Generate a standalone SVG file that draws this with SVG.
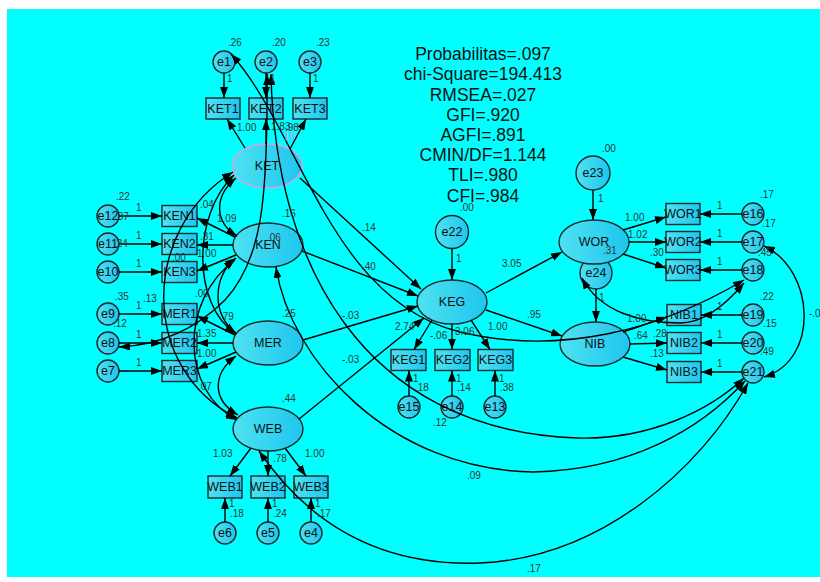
<svg xmlns="http://www.w3.org/2000/svg" width="820" height="582" viewBox="0 0 820 582">
<defs>
<linearGradient id="g" x1="0" y1="0" x2="1" y2="0"><stop offset="0" stop-color="#4ee2f2"/><stop offset="1" stop-color="#1ec6ee"/></linearGradient>
<marker id="a" viewBox="0 0 11 8" refX="11" refY="4" markerWidth="11" markerHeight="8" markerUnits="userSpaceOnUse" orient="auto-start-reverse"><path d="M0,0L11,4L0,8z" fill="#000"/></marker>
</defs>
<style>
.n{fill:url(#g);stroke:#1a2a2a;stroke-width:1.4}
.k{fill:url(#g);stroke:#d8a0e0;stroke-width:1.5}
.c{fill:none;stroke:#000;stroke-width:1.4}
.a{marker-end:url(#a)}
.d{marker-start:url(#a);marker-end:url(#a)}
.t{font-family:"Liberation Sans",Arial,sans-serif;font-size:12.5px;fill:#111;text-anchor:middle;dominant-baseline:central}
.s{font-family:"Liberation Sans",Arial,sans-serif;font-size:10px;fill:#333}
.p{fill:#d890e0}
.h{font-family:"Liberation Sans",Arial,sans-serif;font-size:17.5px;fill:#111;text-anchor:middle}
</style>
<rect x="0" y="0" width="820" height="582" fill="#fff"/>
<rect x="7" y="9" width="813" height="568" fill="#00ffff"/>

<g id="nodes">
<g id="e1"><circle class="n" cx="224" cy="62" r="11"/><text class="t" x="224" y="62">e1</text></g>
<g id="e2"><circle class="n" cx="266" cy="62" r="11"/><text class="t" x="266" y="62">e2</text></g>
<g id="e3"><circle class="n" cx="310" cy="62" r="11"/><text class="t" x="310" y="62">e3</text></g>
<g id="KET1"><rect class="n" x="206" y="98" width="34" height="21"/><text class="t" x="223" y="108.5">KET1</text></g>
<g id="KET2"><rect class="n" x="249" y="98" width="34" height="21"/><text class="t" x="266" y="108.5">KET2</text></g>
<g id="KET3"><rect class="n" x="293" y="98" width="34" height="21"/><text class="t" x="310" y="108.5">KET3</text></g>
<g id="KET"><ellipse class="k" cx="267" cy="166" rx="35" ry="22"/><text class="t" x="267" y="166">KET</text></g>

<g id="e12"><circle class="n" cx="108" cy="216" r="11"/><text class="t" x="108" y="216">e12</text></g>
<g id="e11"><circle class="n" cx="108" cy="244" r="11"/><text class="t" x="108" y="244">e11</text></g>
<g id="e10"><circle class="n" cx="108" cy="272" r="11"/><text class="t" x="108" y="272">e10</text></g>
<g id="e9"><circle class="n" cx="108" cy="314" r="11"/><text class="t" x="108" y="314">e9</text></g>
<g id="e8"><circle class="n" cx="108" cy="343" r="11"/><text class="t" x="108" y="343">e8</text></g>
<g id="e7"><circle class="n" cx="108" cy="371" r="11"/><text class="t" x="108" y="371">e7</text></g>
<g id="KEN1"><rect class="n" x="162" y="205.5" width="35" height="21"/><text class="t" x="179.5" y="216">KEN1</text></g>
<g id="KEN2"><rect class="n" x="162" y="233.5" width="35" height="21"/><text class="t" x="179.5" y="244">KEN2</text></g>
<g id="KEN3"><rect class="n" x="162" y="261.5" width="35" height="21"/><text class="t" x="179.5" y="272">KEN3</text></g>
<g id="MER1"><rect class="n" x="162" y="303.5" width="35" height="21"/><text class="t" x="179.5" y="314">MER1</text></g>
<g id="MER2"><rect class="n" x="162" y="332.5" width="35" height="21"/><text class="t" x="179.5" y="343">MER2</text></g>
<g id="MER3"><rect class="n" x="162" y="360.5" width="35" height="21"/><text class="t" x="179.5" y="371">MER3</text></g>
<g id="KEN"><ellipse class="n" cx="268" cy="245" rx="35" ry="22"/><text class="t" x="268" y="245">KEN</text></g>
<g id="MER"><ellipse class="n" cx="268" cy="343" rx="35" ry="22"/><text class="t" x="268" y="343">MER</text></g>
<g id="WEB"><ellipse class="n" cx="268" cy="429" rx="35" ry="22"/><text class="t" x="268" y="429">WEB</text></g>
<g id="WEB1"><rect class="n" x="208" y="476" width="34" height="22"/><text class="t" x="225" y="487">WEB1</text></g>
<g id="WEB2"><rect class="n" x="251" y="476" width="34" height="22"/><text class="t" x="268" y="487">WEB2</text></g>
<g id="WEB3"><rect class="n" x="294" y="476" width="34" height="22"/><text class="t" x="311" y="487">WEB3</text></g>
<g id="e6"><circle class="n" cx="225" cy="533" r="11"/><text class="t" x="225" y="533">e6</text></g>
<g id="e5"><circle class="n" cx="268" cy="533" r="11"/><text class="t" x="268" y="533">e5</text></g>
<g id="e4"><circle class="n" cx="311" cy="533" r="11"/><text class="t" x="311" y="533">e4</text></g>

<g id="e22"><circle class="n" cx="452" cy="232" r="16.5"/><text class="t" x="452" y="232">e22</text></g>
<g id="KEG"><ellipse class="n" cx="452" cy="302" rx="35" ry="22"/><text class="t" x="452" y="302">KEG</text></g>
<g id="KEG1"><rect class="n" x="391" y="349.5" width="35" height="21"/><text class="t" x="408.5" y="360">KEG1</text></g>
<g id="KEG2"><rect class="n" x="435" y="349.5" width="35" height="21"/><text class="t" x="452.5" y="360">KEG2</text></g>
<g id="KEG3"><rect class="n" x="478" y="349.5" width="35" height="21"/><text class="t" x="495.5" y="360">KEG3</text></g>
<g id="e15"><circle class="n" cx="409" cy="407" r="11"/><text class="t" x="409" y="407">e15</text></g>
<g id="e14"><circle class="n" cx="452" cy="407" r="11"/><text class="t" x="452" y="407">e14</text></g>
<g id="e13"><circle class="n" cx="495" cy="407" r="11"/><text class="t" x="495" y="407">e13</text></g>

<g id="e23"><circle class="n" cx="593" cy="173" r="17"/><text class="t" x="593" y="173">e23</text></g>
<g id="e24"><circle class="n" cx="596" cy="273" r="16"/><text class="t" x="596" y="273">e24</text></g>
<g id="WOR"><ellipse class="n" cx="594" cy="242" rx="35" ry="22"/><text class="t" x="594" y="242">WOR</text></g>
<g id="NIB"><ellipse class="n" cx="595" cy="344" rx="35" ry="22"/><text class="t" x="595" y="344">NIB</text></g>
<g id="WOR1"><rect class="n" x="666" y="203.5" width="34" height="21"/><text class="t" x="683" y="214">WOR1</text></g>
<g id="WOR2"><rect class="n" x="666" y="231.5" width="34" height="21"/><text class="t" x="683" y="242">WOR2</text></g>
<g id="WOR3"><rect class="n" x="666" y="259.5" width="34" height="21"/><text class="t" x="683" y="270">WOR3</text></g>
<g id="NIB1"><rect class="n" x="667" y="304.5" width="34" height="21"/><text class="t" x="684" y="315">NIB1</text></g>
<g id="NIB2"><rect class="n" x="667" y="332.5" width="34" height="21"/><text class="t" x="684" y="343">NIB2</text></g>
<g id="NIB3"><rect class="n" x="667" y="361.5" width="34" height="21"/><text class="t" x="684" y="372">NIB3</text></g>
<g id="e16"><circle class="n" cx="753" cy="214" r="11"/><text class="t" x="753" y="214">e16</text></g>
<g id="e17"><circle class="n" cx="753" cy="242" r="11"/><text class="t" x="753" y="242">e17</text></g>
<g id="e18"><circle class="n" cx="753" cy="270" r="11"/><text class="t" x="753" y="270">e18</text></g>
<g id="e19"><circle class="n" cx="753" cy="315" r="11"/><text class="t" x="753" y="315">e19</text></g>
<g id="e20"><circle class="n" cx="753" cy="343" r="11"/><text class="t" x="753" y="343">e20</text></g>
<g id="e21"><circle class="n" cx="753" cy="372" r="11"/><text class="t" x="753" y="372">e21</text></g>
</g>

<g id="connectors">
<line class="c a" x1="224" y1="73" x2="224" y2="98"/>
<line class="c a" x1="266" y1="73" x2="266" y2="98"/>
<line class="c a" x1="310" y1="73" x2="310" y2="98"/>
<line class="c a" x1="245" y1="148" x2="227" y2="119"/>
<line class="c a" x1="266" y1="144" x2="266" y2="119"/>
<line class="c a" x1="290" y1="149" x2="306" y2="119"/>
<line class="c a" x1="119" y1="216" x2="162" y2="216"/>
<line class="c a" x1="119" y1="244" x2="162" y2="244"/>
<line class="c a" x1="119" y1="272" x2="162" y2="272"/>
<line class="c a" x1="119" y1="314" x2="162" y2="314"/>
<line class="c a" x1="119" y1="343" x2="162" y2="343"/>
<line class="c a" x1="119" y1="371" x2="162" y2="371"/>
<line class="c a" x1="235" y1="237" x2="197" y2="218"/>
<line class="c a" x1="233" y1="245" x2="197" y2="245"/>
<line class="c a" x1="236" y1="255" x2="197" y2="271"/>
<line class="c a" x1="235" y1="335" x2="197" y2="316"/>
<line class="c a" x1="233" y1="343" x2="197" y2="343"/>
<line class="c a" x1="236" y1="352" x2="197" y2="369"/>
<line class="c a" x1="251" y1="448" x2="230" y2="476"/>
<line class="c a" x1="268" y1="451" x2="268" y2="476"/>
<line class="c a" x1="285" y1="448" x2="306" y2="476"/>
<line class="c a" x1="225" y1="522" x2="225" y2="498"/>
<line class="c a" x1="268" y1="522" x2="268" y2="498"/>
<line class="c a" x1="311" y1="522" x2="311" y2="498"/>
<line class="c a" x1="300" y1="178" x2="421" y2="289"/>
<line class="c a" x1="302" y1="251" x2="418" y2="296"/>
<line class="c a" x1="303" y1="340" x2="418" y2="306"/>
<line class="c a" x1="299" y1="419" x2="424" y2="318"/>
<line class="c a" x1="452" y1="248.5" x2="452" y2="280"/>
<line class="c a" x1="432" y1="320" x2="414" y2="349.5"/>
<line class="c a" x1="452" y1="324" x2="452" y2="349.5"/>
<line class="c a" x1="471" y1="320" x2="490" y2="349.5"/>
<line class="c a" x1="409" y1="396" x2="409" y2="370.5"/>
<line class="c a" x1="452" y1="396" x2="452" y2="370.5"/>
<line class="c a" x1="495" y1="396" x2="495" y2="370.5"/>
<line class="c a" x1="486" y1="293" x2="562" y2="252"/>
<line class="c a" x1="486" y1="310" x2="562" y2="336"/>
<line class="c a" x1="593" y1="190" x2="593" y2="220"/>
<line class="c a" x1="596" y1="289" x2="596" y2="322"/>
<line class="c a" x1="623" y1="230" x2="666" y2="217"/>
<line class="c a" x1="629" y1="242" x2="666" y2="242"/>
<line class="c a" x1="623" y1="254" x2="666" y2="268"/>
<line class="c a" x1="623" y1="332" x2="667" y2="317"/>
<line class="c a" x1="630" y1="344" x2="667" y2="343"/>
<line class="c a" x1="623" y1="357" x2="667" y2="370"/>
<line class="c a" x1="742" y1="214" x2="700" y2="214"/>
<line class="c a" x1="742" y1="242" x2="700" y2="242"/>
<line class="c a" x1="742" y1="270" x2="700" y2="270"/>
<line class="c a" x1="742" y1="315" x2="701" y2="315"/>
<line class="c a" x1="742" y1="343" x2="701" y2="343"/>
<line class="c a" x1="742" y1="372" x2="701" y2="372"/>
<path class="c d" d="M236,178 C214,196 214,222 237,236"/>
<path class="c d" d="M234,175 C192,215 192,305 236,334"/>
<path class="c d" d="M233,172 C140,230 140,370 237,418"/>
<path class="c d" d="M236,258 C212,276 212,316 236,333"/>
<path class="c d" d="M235,260 C180,300 180,390 237,420"/>
<path class="c d" d="M236,356 C212,374 212,400 238,415"/>
<path class="c d" d="M267,74 C268,200 262,260 225,300 C195,330 160,345 119,347"/>
<path class="c d" d="M231,54 C300,130 330,300 460,332 C560,356 660,330 744,280"/>
<path class="c d" d="M271,74 C275,260 360,430 577,438 C650,440 710,410 744,378"/>
<path class="c d" d="M276,267 C290,360 390,470 533,472 C630,470 700,430 745,381"/>
<path class="c d" d="M259,451 C320,540 400,566 480,563 C600,558 700,470 748,383"/>
<path class="c d" d="M582,278 C600,312 640,323 680,323 C705,323 728,302 744,283"/>
<path class="c d" d="M764,246 C815,270 820,360 764,377"/>
</g>

<g id="labels">
<text class="h" x="483" y="60">Probabilitas=.097</text>
<text class="h" x="483" y="80">chi-Square=194.413</text>
<text class="h" x="483" y="101">RMSEA=.027</text>
<text class="h" x="483" y="121">GFI=.920</text>
<text class="h" x="483" y="141">AGFI=.891</text>
<text class="h" x="483" y="161">CMIN/DF=1.144</text>
<text class="h" x="483" y="181">TLI=.980</text>
<text class="h" x="483" y="202">CFI=.984</text>

<text class="s" x="228" y="46">.26</text>
<text class="s" x="272" y="46">.20</text>
<text class="s" x="316" y="46">.23</text>
<text class="s" x="227" y="82">1</text>
<text class="s" x="270" y="82">1</text>
<text class="s" x="313" y="82">1</text>
<text class="s" x="237" y="131">1.00</text>
<text class="s" x="271" y="130">1.83</text>
<text class="s" x="285" y="131">.98</text>
<text class="s p" x="284" y="140">10</text>

<text class="s" x="116" y="200">.22</text>
<text class="s" x="115" y="220">.37</text>
<text class="s" x="114" y="247">.24</text>
<text class="s" x="115" y="300">.35</text>
<text class="s" x="113" y="327">.12</text>
<text class="s" x="136" y="211">1</text>
<text class="s" x="136" y="239">1</text>
<text class="s" x="136" y="267">1</text>
<text class="s" x="136" y="309">1</text>
<text class="s" x="136" y="338">1</text>
<text class="s" x="136" y="366">1</text>
<text class="s" x="200" y="208">.04</text>
<text class="s" x="217" y="222">1.09</text>
<text class="s" x="200" y="240">.31</text>
<text class="s" x="197" y="257">1.00</text>
<text class="s" x="172" y="261">.00</text>
<text class="s" x="195" y="297">.00</text>
<text class="s" x="220" y="320">.79</text>
<text class="s" x="143" y="302">.13</text>
<text class="s" x="197" y="337">1.35</text>
<text class="s" x="197" y="357">1.00</text>
<text class="s" x="198" y="390">.07</text>
<text class="s" x="282" y="217">.16</text>
<text class="s" x="267" y="241">.06</text>
<text class="s" x="282" y="317">.25</text>
<text class="s" x="282" y="402">.44</text>

<text class="s" x="213" y="457">1.03</text>
<text class="s" x="273" y="462">.78</text>
<text class="s" x="305" y="457">1.00</text>
<text class="s" x="229" y="507">1</text>
<text class="s" x="230" y="517">.18</text>
<text class="s" x="272" y="507">1</text>
<text class="s" x="273" y="517">.24</text>
<text class="s" x="315" y="507">1</text>
<text class="s" x="317" y="517">.17</text>

<text class="s" x="362" y="231">.14</text>
<text class="s" x="362" y="270">.40</text>
<text class="s" x="342" y="319">-.03</text>
<text class="s" x="342" y="363">-.03</text>
<text class="s" x="460" y="211">.00</text>
<text class="s" x="456" y="262">1</text>
<text class="s" x="395" y="330">2.74</text>
<text class="s" x="430" y="339">-.06</text>
<text class="s" x="455" y="335">3.06</text>
<text class="s" x="488" y="330">1.00</text>
<text class="s" x="413" y="382">1</text>
<text class="s" x="415" y="391">.18</text>
<text class="s" x="456" y="382">1</text>
<text class="s" x="457" y="391">.14</text>
<text class="s" x="499" y="382">1</text>
<text class="s" x="500" y="391">.38</text>
<text class="s" x="433" y="426">.12</text>
<text class="s" x="467" y="479">.09</text>
<text class="s" x="527" y="572">.17</text>
<text class="s" x="502" y="267">3.05</text>
<text class="s" x="527" y="318">.95</text>

<text class="s" x="602" y="152">.00</text>
<text class="s" x="598" y="202">1</text>
<text class="s" x="625" y="221">1.00</text>
<text class="s" x="628" y="238">1.02</text>
<text class="s" x="650" y="256">.30</text>
<text class="s" x="603" y="254">.31</text>
<text class="s" x="599" y="301">1</text>
<text class="s" x="627" y="322">1.00</text>
<text class="s" x="634" y="339">.64</text>
<text class="s" x="653" y="337">.28</text>
<text class="s" x="650" y="357">.13</text>
<text class="s" x="717" y="209">1</text>
<text class="s" x="717" y="237">1</text>
<text class="s" x="717" y="265">1</text>
<text class="s" x="717" y="310">1</text>
<text class="s" x="717" y="338">1</text>
<text class="s" x="717" y="367">1</text>
<text class="s" x="760" y="198">.17</text>
<text class="s" x="762" y="227">.17</text>
<text class="s" x="758" y="256">.45</text>
<text class="s" x="760" y="300">.22</text>
<text class="s" x="763" y="327">.15</text>
<text class="s" x="760" y="355">.49</text>
<text class="s" x="809" y="317">-.0</text>
</g>
</svg>
